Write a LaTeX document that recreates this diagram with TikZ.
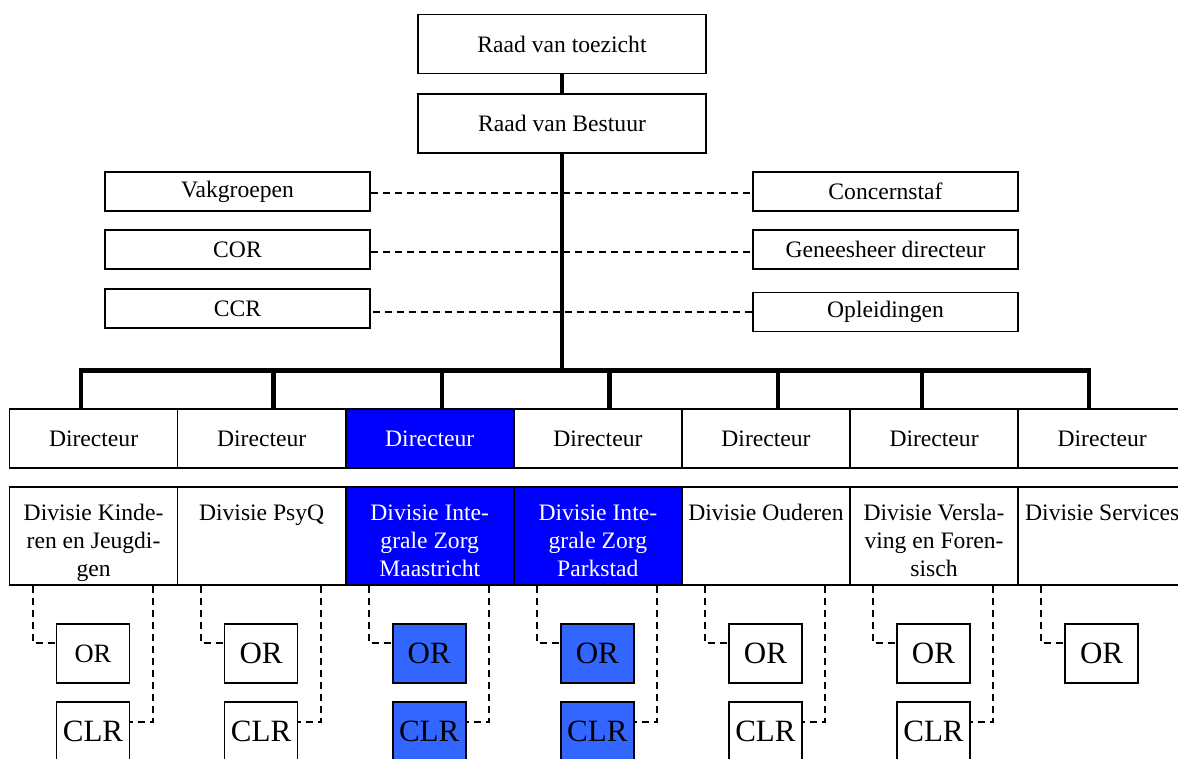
\documentclass[tikz,border=0pt]{standalone}
\usepackage{fontspec}
\setmainfont{Liberation Serif}
\usetikzlibrary{calc}
\definecolor{divblue}{RGB}{0,0,255}
\definecolor{raadblue}{RGB}{51,102,255}
% division text: top aligned inside a 98pt high box
\newcommand{\divlines}[1]{\parbox[c][98pt][t]{166pt}{\centering\rule{0pt}{33pt}#1}}

\begin{document}
\begin{tikzpicture}[x=1pt,y=-1pt,
  box/.style={draw, line width=1.7pt, fill=white, inner sep=0pt,
    font=\fontsize{23.6}{28}\selectfont},
  topbox/.style={box, minimum width=288pt, minimum height=59pt},
  sidebox/.style={box, minimum width=265pt, minimum height=39pt},
  dirbox/.style={box, minimum width=168.1pt, minimum height=59pt},
  divbox/.style={box, minimum width=168.1pt, minimum height=98pt},
  raadbox/.style={box, minimum width=73pt, minimum height=59pt,
    font=\fontsize{31}{36}\selectfont},
  hl/.style={fill=divblue, text=white},
  hlraad/.style={fill=raadblue},
  trunk/.style={line width=4.6pt},
  dashline/.style={line width=1.7pt, dash pattern=on 7pt off 5pt}]

\useasboundingbox (0,0) rectangle (1178,758);
\clip (0,0) rectangle (1178,758);

% top of the organisation
\node[topbox] (rvt) at (562,44) {Raad van toezicht};
\node[topbox] (rvb) at (562,123.5) {Raad van Bestuur};

% advisory bodies and staff
\node[sidebox] (vak) at (237.5,191.5) {Vakgroepen};
\node[sidebox] (cor) at (237.5,249.5) {COR};
\node[sidebox] (ccr) at (237.5,308.5) {CCR};
\node[sidebox] (con) at (885.5,191.5) {Concernstaf};
\node[sidebox] (gen) at (885.5,249.5) {Geneesheer directeur};
\node[sidebox] (opl) at (885.5,312) {Opleidingen};

\coordinate (sv1) at ($(vak.east)+(0,1.5)$);
\coordinate (sv2) at ($(cor.east)+(0,2.5)$);
\draw[dashline] (sv1) -- (sv1 -| con.west);
\draw[dashline] (sv2) -- (sv2 -| gen.west);
\draw[dashline] (opl.west) -- (opl.west -| ccr.east);

% directors
\node[dirbox]     (dir1) at (93.55,438.5)  {Directeur};
\node[dirbox]     (dir2) at (261.65,438.5) {Directeur};
\node[dirbox,hl]  (dir3) at (429.75,438.5) {Directeur};
\node[dirbox]     (dir4) at (597.85,438.5) {Directeur};
\node[dirbox]     (dir5) at (765.95,438.5) {Directeur};
\node[dirbox]     (dir6) at (934.05,438.5) {Directeur};
\node[dirbox]     (dir7) at (1102.15,438.5) {Directeur};

% divisions
\node[divbox]    (div1) at (93.55,536)  {\divlines{Divisie Kinde-\\ren en Jeugdi-\\gen}};
\node[divbox]    (div2) at (261.65,536) {\divlines{Divisie PsyQ}};
\node[divbox,hl] (div3) at (429.75,536) {\divlines{Divisie Inte-\\grale Zorg\\Maastricht}};
\node[divbox,hl] (div4) at (597.85,536) {\divlines{Divisie Inte-\\grale Zorg\\Parkstad}};
\node[divbox]    (div5) at (765.95,536) {\divlines{Divisie Ouderen}};
\node[divbox]    (div6) at (934.05,536) {\divlines{Divisie Versla-\\ving en Foren-\\sisch}};
\node[divbox]    (div7) at (1102.15,536) {\divlines{Divisie Services}};

% participation councils
\node[raadbox,font=\fontsize{26.5}{30}\selectfont] (or1) at (93,653.5) {OR};
\node[raadbox]        (or2) at (261.1,653.5) {OR};
\node[raadbox,hlraad] (or3) at (429.2,653.5) {OR};
\node[raadbox,hlraad] (or4) at (597.3,653.5) {OR};
\node[raadbox]        (or5) at (765.4,653.5) {OR};
\node[raadbox]        (or6) at (933.5,653.5) {OR};
\node[raadbox]        (or7) at (1101.6,653.5) {OR};

\node[raadbox]        (clr1) at (93,731.5) {CLR};
\node[raadbox]        (clr2) at (261.1,731.5) {CLR};
\node[raadbox,hlraad] (clr3) at (429.2,731.5) {CLR};
\node[raadbox,hlraad] (clr4) at (597.3,731.5) {CLR};
\node[raadbox]        (clr5) at (765.4,731.5) {CLR};
\node[raadbox]        (clr6) at (933.5,731.5) {CLR};

\foreach \i in {1,...,7} {
  \draw[dashline] ($(div\i.south west)+(24,0)$) |- ($(or\i.west)+(0,-10.5)$);
}
\foreach \i in {1,...,6} {
  \draw[dashline] ($(div\i.south west)+(144,0)$) |- ($(clr\i.east)+(0,-9.5)$);
}

% line of command
\coordinate (t1) at (81,370.5);
\coordinate (t2) at (273.5,370.5);
\coordinate (t3) at (442,370.5);
\coordinate (t4) at (609.5,370.5);
\coordinate (t5) at (778,370.5);
\coordinate (t6) at (922,370.5);
\coordinate (t7) at (1089,370.5);

\draw[trunk] (rvt.south) -- (rvb.north);
\draw[trunk] (rvb.south) -- (rvb.south |- t1);
\draw[trunk] (t1 |- dir1.north) -- (t1) -- (t7) -- (t7 |- dir7.north);
\foreach \i in {2,...,6} {
  \draw[trunk] (t\i) -- (t\i |- dir\i.north);
}
\end{tikzpicture}
\end{document}
